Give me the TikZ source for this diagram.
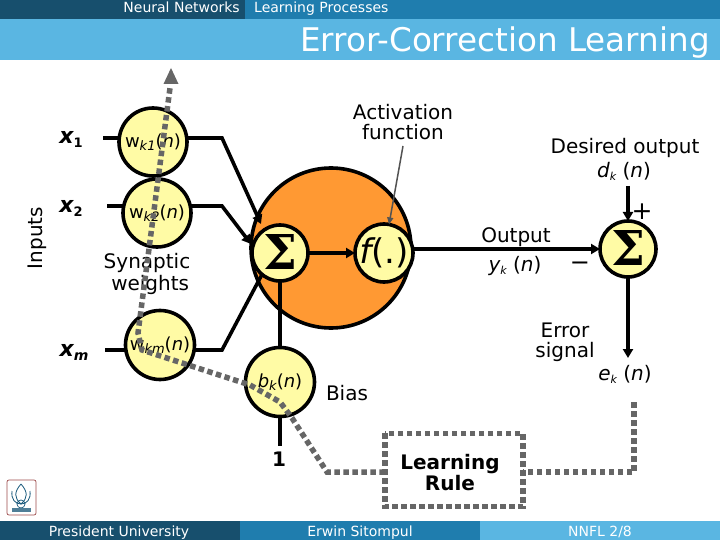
\documentclass[tikz,border=0pt]{standalone}
\usepackage{fontspec}
\setmainfont{DejaVu Sans}
\newfontfamily\sigfont{DejaVu Serif}
\usetikzlibrary{arrows.meta,calc}
\definecolor{bardark}{HTML}{174F6D}
\definecolor{barmid}{HTML}{1F7DAE}
\definecolor{barlight}{HTML}{5AB6E2}
\definecolor{cellfill}{HTML}{FFFBA5}
\definecolor{bodyfill}{HTML}{FF9933}
\definecolor{dotgrey}{HTML}{666666}
\newcommand{\fs}[1]{\fontsize{#1}{#1}\selectfont}
\newcommand{\lab}[2]{{\itshape #1}{\fontsize{11}{11}\selectfont\itshape\raisebox{-3pt}{#2}}}
\newcommand{\cellsub}[1]{{\fontsize{13}{13}\selectfont\itshape\raisebox{-3pt}{#1}}}
\newcommand{\argn}{({\itshape n})}
\tikzset{
  cell/.style={circle,draw=black,line width=3.6pt,fill=cellfill,inner sep=0pt,outer sep=0pt,minimum size=#1,font=\fs{18}},
  wire/.style={draw=black,line width=3.6pt,line join=miter},
  wirearrow/.style={wire,-{Triangle[length=9pt,width=10pt]}},
  txt/.style={font=\fs{20},align=center,inner sep=0pt,text=black},
  var/.style={font=\fs{22}\bfseries\itshape,inner sep=0pt},
  bartext/.style={text=white,inner sep=0pt},
  dotpath/.style={draw=dotgrey,line width=5.5pt,dash pattern=on 5.5pt off 3.5pt},
  sigma/.style={font=\fs{48}\sigfont\bfseries,inner sep=0pt}
}
\begin{document}
\begin{tikzpicture}[x=1pt,y=-1pt]
\useasboundingbox (0,0) rectangle (720,540);
\fill[white] (0,0) rectangle (720,540);
% bars
\fill[barmid] (0,0) rectangle (720,19);
\fill[bardark] (0,0) rectangle (245,19);
\fill[barlight] (0,19) rectangle (720,60);
\fill[bardark] (0,521) rectangle (240,540);
\fill[barmid] (240,521) rectangle (480,540);
\fill[barlight] (480,521) rectangle (720,540);
\node[bartext,font=\fs{14},anchor=base east] (navone) at (240,13) {Neural Networks};
\node[bartext,font=\fs{14},anchor=base west] (navtwo) at (254,13) {Learning Processes};
\node[bartext,font=\fs{32.6},anchor=base east] (title) at (710,52) {Error-Correction Learning};
\node[bartext,font=\fs{14},anchor=base] (footone) at (119,536) {President University};
\node[bartext,font=\fs{14},anchor=base] (foottwo) at (360,536) {Erwin Sitompul};
\node[bartext,font=\fs{14},anchor=base] (footthree) at (600,536) {NNFL 2/8};
% logo
\draw[red!45!black!70,line width=.7pt,rounded corners=2pt] (7,480) rectangle (36,515);
\draw[barmid!70!black,line width=.8pt] (21,484) .. controls (14,492) and (14,498) .. (21,504) .. controls (28,498) and (28,492) .. (21,484);
\draw[barmid!70!black,line width=.8pt] (12,491) .. controls (11,499) and (15,504) .. (21,504) .. controls (27,504) and (31,499) .. (30,491);
\draw[barmid!70!black,line width=.7pt] (21,504) circle (4);
\fill[barmid!50!gray] (12,508) rectangle (31,512);
% body
\node[circle,draw=black,line width=3.6pt,fill=bodyfill,minimum size=160pt,inner sep=0pt,outer sep=0pt] (body) at (331,248) {};
% cells
\node[cell=68pt] (wone) at (153,142) {w\cellsub{k1}\argn};
\node[cell=68pt] (wtwo) at (157,213) {w\cellsub{k2}\argn};
\node[cell=69pt] (wm) at (160,345) {w\cellsub{km}\argn};
\node[cell=69pt] (bias) at (280,382) {{\itshape b}\cellsub{k}\argn};
\node[cell=56pt] (sumone) at (280,253) {};
\node[sigma] at (280,252) {Σ};
\node[cell=58pt,font=\fs{34}] (act) at (384,253) {{\itshape f}(.)};
\node[cell=56pt] (sumtwo) at (628,249) {};
\node[sigma] at (628,248) {Σ};
% anchors
\coordinate (xonestart) at (103,138);
\coordinate (xtwostart) at (107,206);
\coordinate (xmstart) at (105,350);
\coordinate (bendone) at (222,138);
\coordinate (bendtwo) at (222,206);
\coordinate (bendm) at (222,350);
\coordinate (desired) at (628,186);
\coordinate (errend) at (628,358);
\coordinate (oneend) at (279,446);
\coordinate (actstart) at (403,146);
% wires
\draw[wire] (xonestart) -- (wone.west |- xonestart);
\draw[wire] (xtwostart) -- (wtwo.west |- xtwostart);
\draw[wire] (xmstart) -- (wm.west |- xmstart);
\draw[wirearrow] (wone.east |- bendone) -- (bendone) -- (261,224);
\draw[wirearrow] (wtwo.east |- bendtwo) -- (bendtwo) -- (251,244);
\draw[wire] (wm.east |- bendm) -- (bendm) -- (sumone.230);
\draw[wirearrow] (sumone.east) -- (act.west);
\draw[wire] (bias.north) -- (sumone.south);
\draw[wire] (bias.south) -- (bias.south |- oneend);
\draw[wirearrow] (act.east |- sumtwo) -- (sumtwo.west);
\draw[wirearrow] (desired) -- (sumtwo.north);
\draw[wirearrow] (sumtwo.south) -- (errend);
\draw[draw=dotgrey!80!black,line width=1.5pt,-{Triangle[length=7pt,width=6pt]}] (actstart) -- (act.80);
% labels
\node[txt,rotate=90] (inputs) at (37,238) {Inputs};
\node[var] (xone) at (71,139) {x\raisebox{-4pt}{\fs{13}\upshape 1}};
\node[var] (xtwo) at (71,208) {x\raisebox{-4pt}{\fs{13}\upshape 2}};
\node[var] (xm) at (74,352) {x\raisebox{-4pt}{\fs{14}m}};
\node[txt] (syn) at (147,274) {Synaptic\\[1.5pt]\ weights};
\node[txt] (activ) at (403,122) {Activation\\function};
\node[txt] (des) at (625,148) {Desired output};
\node[txt] (dk) at (624,171) {\lab{d}{k} \argn};
\node[txt] (out) at (516,237) {Output};
\node[txt] (yk) at (515,266) {\lab{y}{k} \argn};
\node[txt] (err) at (565,342) {Error\\signal};
\node[txt] (ek) at (625,374) {\lab{e}{k} \argn};
\node[txt] (biaslab) at (347,393) {Bias};
\node[txt,font=\fs{20}\bfseries] (bone) at (279,459) {1};
\node[txt,font=\fs{25}] (plus) at (642,212) {+};
\node[txt,font=\fs{24}] (minus) at (580,266) {\textminus};
% learning rule
\node[minimum width=138pt,minimum height=73pt,inner sep=0pt] (rule) at (454,470) {};
\node[txt,font=\fs{20}\bfseries] (ruletext) at (450,473) {Learning\\[1pt]Rule};
\draw[dotpath] (rule.north west) rectangle (rule.south east);
\coordinate (ea) at (634,402);
\coordinate (eb) at (634,472);
\coordinate (ec) at (rule.east |- eb);
\coordinate (ra) at (rule.west |- eb);
\draw[dotpath] (ea) -- (eb) -- (ec);
\coordinate (pa) at (327,472);
\coordinate (pb) at (292,418);
\coordinate (pbb) at (280,402);
\coordinate (pc) at (250,385);
\coordinate (pd) at (142,350);
\coordinate (pdd) at (138,333);
\coordinate (pe) at (170,88);
\draw[dotpath] (ra) -- (pa) -- (pb) -- (pbb) -- (pc) -- (pd) -- (pdd) -- (pe);
\coordinate (tip) at (171,68);
\fill[dotgrey] (tip) -- (178.5,84) -- (163.5,84) -- cycle;
\end{tikzpicture}
\end{document}
